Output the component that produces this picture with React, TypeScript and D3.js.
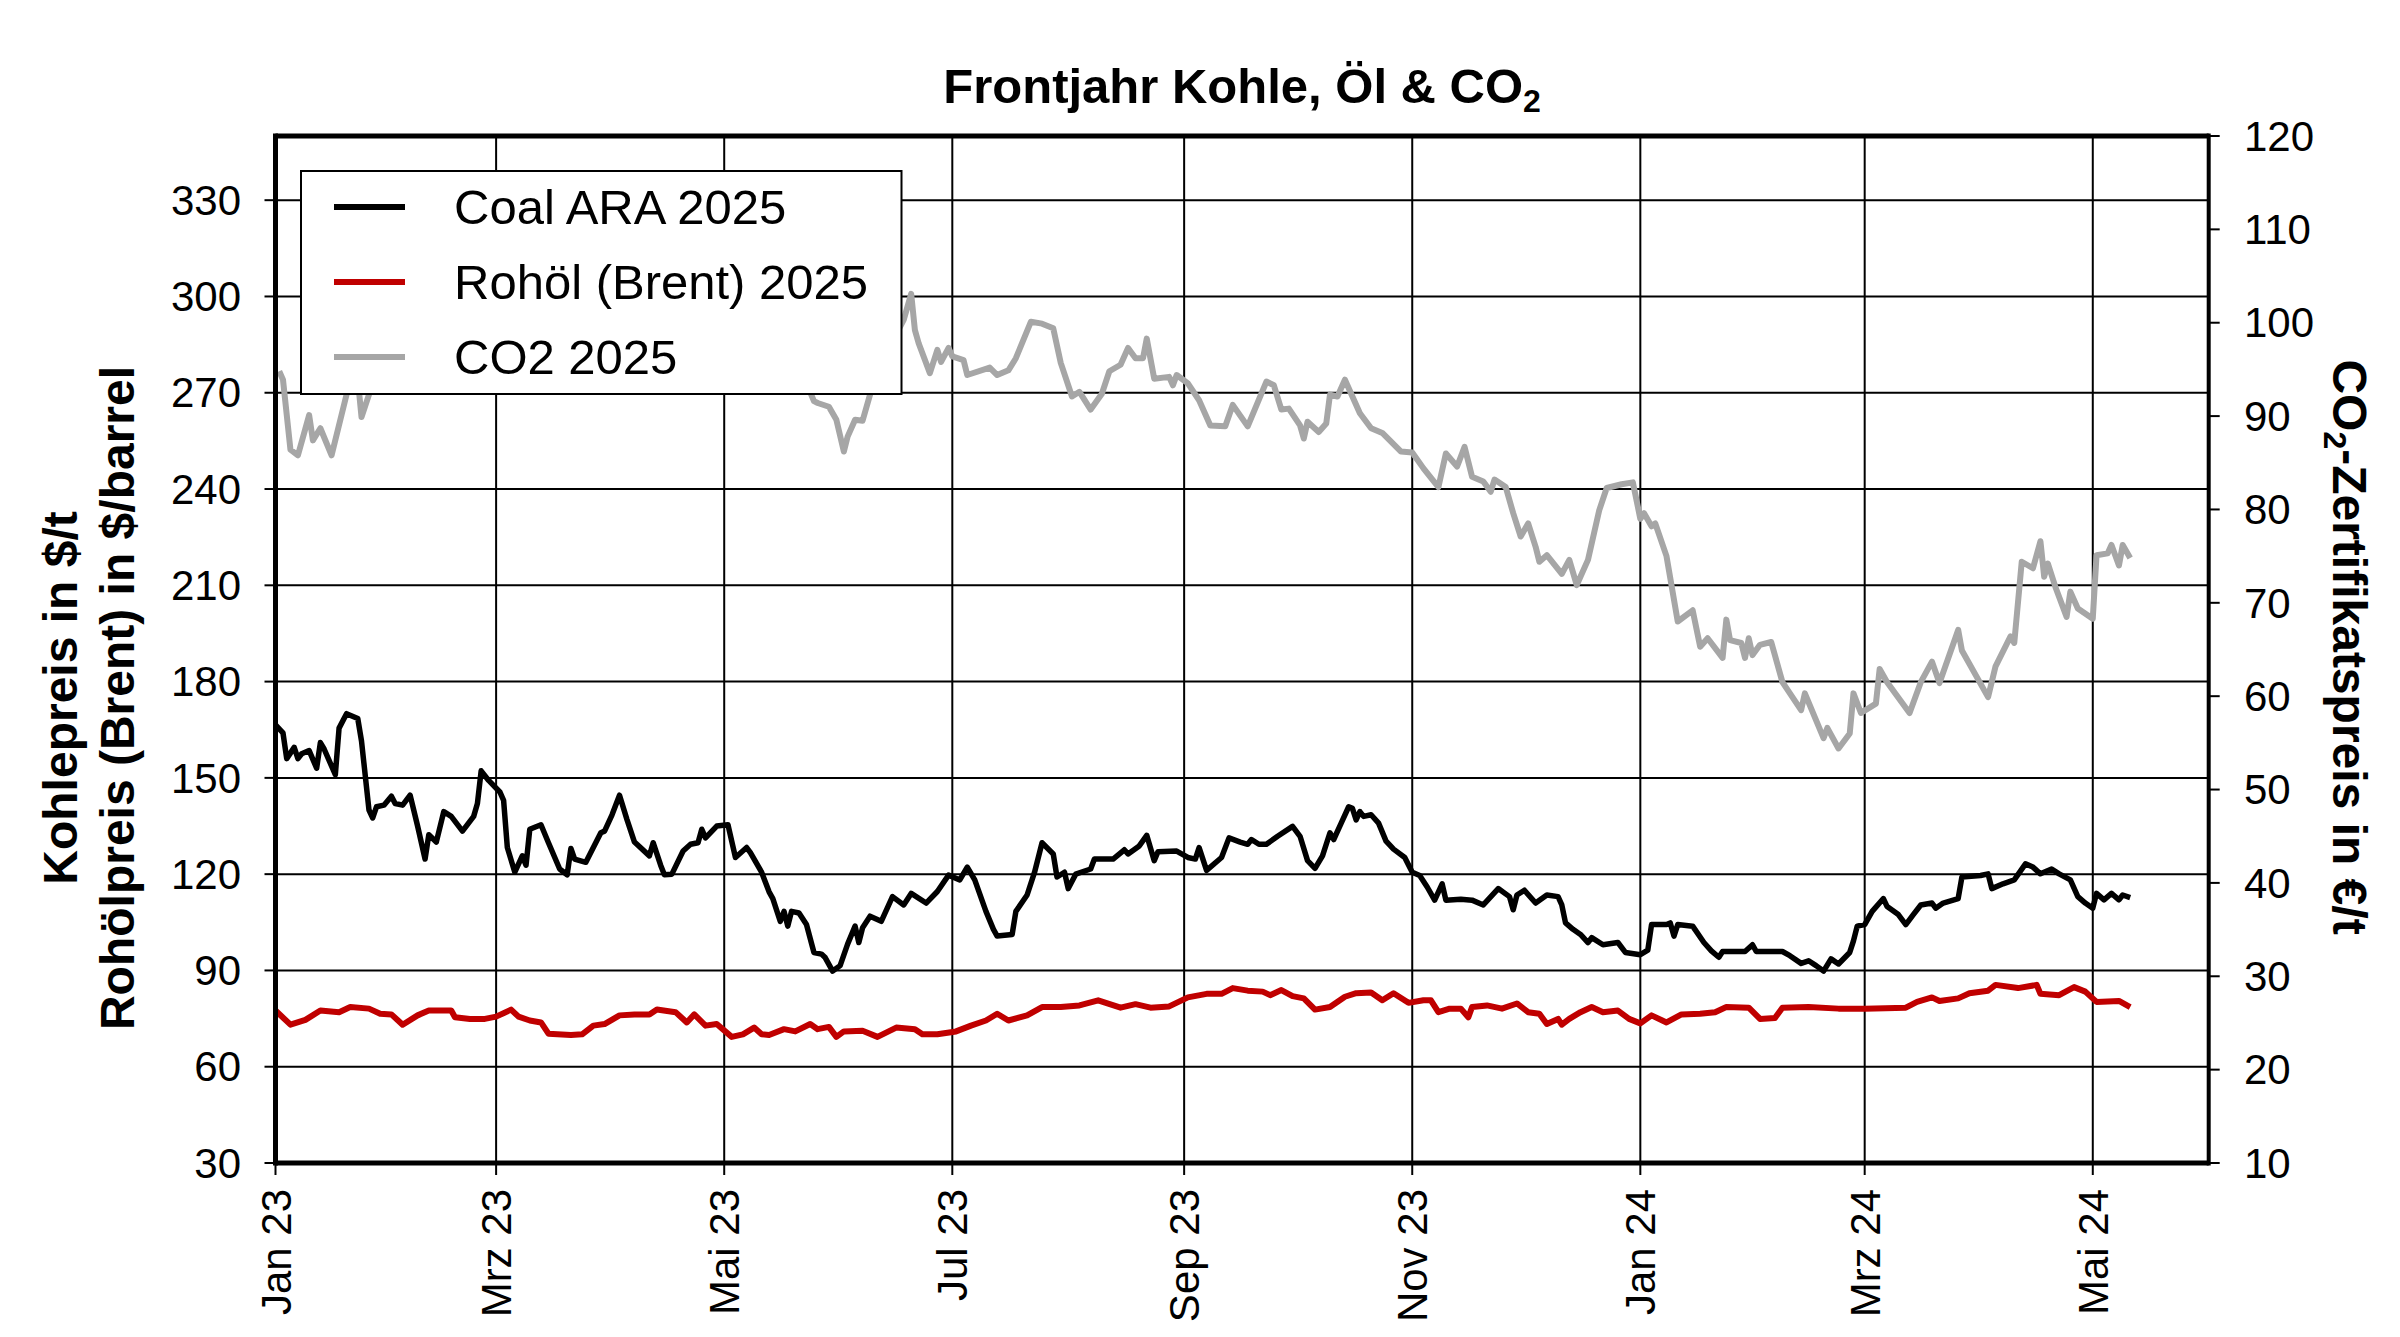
import * as d3 from "d3";

// Tage seit 1. Jan 2023, Wert
const coalSeries: [number, number][] = [
  [0, 166.5], [2, 164], [3, 156], [5, 159.5], [6, 156], [7, 157.5], [9, 158.5], [11, 153], [12, 161], [13, 159],
  [16, 151], [17, 165.5], [19, 170], [22, 168.5], [23, 161.5], [25, 140], [26, 137.5], [27, 141], [29, 141.5],
  [31, 144.3], [32, 142], [34, 141.5], [36, 144.6], [38, 135], [40, 124.7], [41, 132.3], [43, 130], [45, 139.5],
  [47, 138], [50, 133.4], [53, 138], [54, 142], [55, 152.2], [57, 149.2], [60, 145.6], [61, 143], [62, 128.3],
  [64, 120.6], [66, 125.7], [67, 122.8], [68, 134], [71, 135.4], [73, 129.8], [76, 121.6], [78, 119.8], [79, 128],
  [80, 124.7], [83, 123.7], [87, 132.9], [88, 133.4], [90, 138.5], [92, 144.6], [94, 137], [96, 130], [100, 125.7],
  [101, 129.8], [103, 122.8], [104, 119.8], [106, 120], [109, 127.2], [111, 129.3], [113, 129.8], [114, 134],
  [115, 131.3], [118, 135], [121, 135.4], [123, 125.2], [126, 128.3], [127, 126.7], [130, 120.6], [132, 114.5],
  [133, 112.4], [135, 105.3], [136, 108.4], [137, 103.8], [138, 108.4], [140, 107.9], [142, 104.3], [144, 95.6],
  [146, 95.1], [147, 94], [149, 89.8], [151, 91.5], [153, 98.2], [155, 103.8], [156, 98.7], [157, 103.3],
  [159, 106.9], [162, 105.3], [165, 113], [168, 110.4], [170, 114], [174, 111], [177, 114.6], [180, 119.7],
  [183, 118.2], [185, 122.2], [187, 118.2], [190, 108.4], [192, 102.8], [193, 100.7], [197, 101.2], [198, 108.4],
  [201, 113.5], [203, 120.6], [205, 129.8], [208, 126.3], [209, 119.1], [211, 120.6], [212, 115.5], [214, 120],
  [218, 121.6], [219, 124.7], [224, 124.7], [227, 127.6], [228, 126.3], [231, 128.8], [233, 132.1], [235, 124.2],
  [236, 127], [241, 127.2], [244, 125.2], [246, 124.7], [247, 128.3], [249, 121.2], [253, 125.2], [255, 131.3],
  [258, 130], [260, 129.3], [261, 130.8], [263, 129.3], [265, 129.3], [268, 131.8], [272, 134.9], [274, 131.8],
  [276, 124.2], [278, 121.8], [280, 125.7], [282, 132.9], [283, 130.8], [285, 135.9], [287, 141], [288, 140.5],
  [289, 136.9], [290, 139.5], [291, 138], [293, 138.5], [295, 135.9], [297, 130.3], [299, 127.8], [302, 125.2],
  [304, 120.6], [306, 119.6], [308, 116], [310, 111.9], [312, 117], [313, 111.9], [317, 112.2], [320, 111.9],
  [323, 110.4], [327, 115.5], [330, 113], [331, 108.9], [332, 113.5], [334, 115], [337, 111], [340, 113.5],
  [343, 113], [344, 110.4], [345, 104.8], [347, 102.8], [349, 101.2], [351, 98.7], [352, 100.2], [355, 98],
  [359, 98.7], [361, 95.6], [365, 94.9], [367, 96.3], [368, 104.3], [372, 104.3], [373, 104.8], [374, 100.7],
  [375, 104.3], [379, 103.8], [382, 98.7], [384, 96.1], [386, 94.1], [387, 95.9], [393, 95.9], [395, 98],
  [396, 95.9], [403, 95.9], [405, 94.6], [408, 92.2], [410, 93], [412, 91.5], [414, 89.8], [416, 93.6], [418, 92],
  [421, 95.6], [422, 99.2], [423, 103.8], [425, 104.3], [427, 108.4], [430, 112.4], [431, 109.9], [434, 107.4],
  [436, 104.3], [438, 107.4], [440, 110.4], [443, 111], [444, 109.4], [446, 111], [450, 112.4], [451, 119.1],
  [456, 119.6], [458, 120.1], [459, 115.5], [462, 117], [465, 118.2], [468, 123.2], [470, 122.2], [472, 120.1],
  [475, 121.6], [477, 120.1], [480, 118.2], [482, 113], [484, 111], [486, 109.4], [487, 114], [489, 112],
  [491, 114], [493, 112], [494, 113.5], [496, 112.7],
];

const brentSeries: [number, number][] = [
  [0, 77.5], [4, 73.1], [8, 74.6], [12, 77.5], [17, 77], [20, 78.6], [25, 78.1], [28, 76.5], [31, 76.3], [34, 73.1],
  [38, 76], [41, 77.5], [47, 77.5], [48, 75.4], [52, 74.9], [56, 74.9], [59, 75.6], [63, 77.8], [65, 75.6],
  [68, 74.4], [71, 73.8], [73, 70.3], [79, 69.9], [82, 70.1], [85, 72.8], [88, 73.3], [92, 76], [96, 76.3],
  [100, 76.3], [102, 77.8], [107, 77], [110, 73.8], [112, 76.3], [115, 72.8], [118, 73.3], [122, 69.3], [125, 70.1],
  [128, 72.2], [130, 70.1], [132, 69.9], [136, 71.7], [139, 71], [143, 73.3], [145, 71.7], [148, 72.4], [150, 69.3],
  [152, 71], [157, 71.2], [161, 69.3], [166, 72.2], [171, 71.7], [173, 70.1], [177, 70.1], [182, 71], [186, 72.8],
  [190, 74.4], [193, 76.5], [196, 74.4], [201, 76], [205, 78.6], [210, 78.6], [215, 79.1], [220, 80.7], [226, 78.4],
  [230, 79.5], [234, 78.4], [239, 78.8], [244, 81.6], [249, 82.7], [253, 82.7], [256, 84.5], [260, 83.7],
  [264, 83.4], [266, 82.3], [269, 83.9], [272, 82], [275, 81.3], [278, 77.8], [282, 78.6], [286, 81.8], [289, 82.9],
  [293, 83.1], [296, 80.7], [299, 82.9], [303, 79.9], [307, 80.7], [309, 80.7], [311, 77], [314, 78.1], [317, 78.1],
  [319, 75.4], [320, 78.6], [324, 79.1], [328, 78.1], [332, 79.7], [335, 77], [338, 76.5], [340, 73.3], [343, 74.9],
  [344, 73.1], [346, 74.9], [349, 77], [352, 78.6], [355, 77], [359, 77.5], [362, 74.9], [365, 73.5], [368, 76],
  [372, 73.8], [376, 76.3], [381, 76.5], [385, 77], [388, 78.6], [394, 78.4], [397, 74.9], [401, 75.2], [403, 78.4],
  [410, 78.6], [418, 78.1], [425, 78.1], [436, 78.4], [439, 80.2], [443, 81.6], [445, 80.5], [450, 81.3],
  [453, 82.9], [458, 83.7], [460, 85.5], [466, 84.5], [471, 85.5], [472, 82.7], [477, 82.3], [481, 84.8],
  [484, 83.4], [487, 80.2], [493, 80.5], [496, 78.6],
];

// rechte Achse (€/t); Feb-Mai 2023 liegt hinter der Legende
const co2Series: [number, number][] = [
  [1, 94.8], [2, 93.9], [4, 86.4], [6, 85.8], [9, 90.1], [10, 87.4], [12, 88.7], [15, 85.8], [19, 92.3], [20, 95],
  [22, 94], [23, 89.9], [25, 92.3], [27, 95.5], [32, 97], [38, 99], [45, 101], [52, 100], [60, 99], [68, 97],
  [76, 96], [85, 97.5], [95, 98], [105, 96.5], [115, 96], [125, 95], [135, 94], [142, 93.5], [144, 91.6],
  [145, 91.4], [148, 91], [150, 89.6], [152, 86.2], [153, 87.8], [155, 89.6], [157, 89.5], [159, 92.3], [162, 95],
  [165, 98], [168, 100.3], [170, 103.1], [171, 99.2], [172, 97.8], [175, 94.6], [177, 97.1], [178, 95.8],
  [180, 97.3], [181, 96.4], [184, 96], [185, 94.4], [191, 95.2], [193, 94.4], [196, 94.9], [198, 96.2],
  [202, 100.1], [205, 99.9], [208, 99.4], [210, 95.7], [213, 92.1], [215, 92.6], [218, 90.7], [221, 92.4],
  [223, 94.8], [226, 95.5], [228, 97.3], [230, 96.2], [232, 96.2], [233, 98.3], [235, 94], [239, 94.2], [240, 93.3],
  [241, 94.4], [244, 93.5], [247, 91.7], [250, 89], [254, 88.9], [256, 91.2], [260, 88.9], [265, 93.7], [267, 93.3],
  [269, 90.7], [271, 90.8], [274, 89], [275, 87.6], [276, 89.4], [279, 88.3], [281, 89.2], [282, 92.3], [284, 92.1],
  [286, 93.9], [290, 90.3], [293, 88.7], [296, 88.2], [301, 86.2], [304, 86.1], [307, 84.4], [311, 82.4], [313, 86],
  [316, 84.6], [318, 86.7], [320, 83.5], [323, 83], [325, 81.9], [326, 83.2], [329, 82.4], [331, 79.6], [333, 77.1],
  [335, 78.5], [337, 76], [338, 74.4], [340, 75.1], [344, 73.1], [346, 74.6], [348, 71.9], [351, 74.6], [354, 79.9],
  [356, 82.3], [360, 82.7], [363, 82.9], [365, 79], [366, 79.6], [368, 78.2], [369, 78.5], [372, 75], [375, 68],
  [379, 69.2], [381, 65.3], [383, 66.2], [387, 64.1], [388, 68.2], [389, 66], [392, 65.7], [393, 64.1], [394, 66.2],
  [395, 64.4], [397, 65.5], [400, 65.8], [403, 61.5], [408, 58.5], [409, 60.3], [414, 55.5], [415, 56.6],
  [418, 54.4], [421, 56], [422, 60.3], [424, 58.2], [428, 59.2], [429, 62.9], [431, 61.5], [437, 58.2], [440, 61.5],
  [443, 63.7], [445, 61.4], [450, 67.1], [451, 64.9], [458, 59.9], [460, 63.2], [464, 66.4], [465, 65.7],
  [467, 74.4], [470, 73.7], [472, 76.6], [473, 72.8], [474, 74.2], [476, 71.7], [479, 68.5], [480, 71.2],
  [482, 69.4], [486, 68.3], [487, 75.1], [490, 75.3], [491, 76.2], [493, 74], [494, 76.2], [496, 74.8],
];

const xTickLabels = ["Jan 23", "Mrz 23", "Mai 23", "Jul 23", "Sep 23", "Nov 23", "Jan 24", "Mrz 24", "Mai 24"];
const leftTicks = d3.range(30, 331, 30);
const rightTicks = d3.range(10, 121, 10);
const legendItems = [
  { label: "Coal ARA 2025", color: "#000000", width: 6 },
  { label: "Rohöl (Brent) 2025", color: "#C00000", width: 6 },
  { label: "CO2 2025", color: "#A6A6A6", width: 6 },
];

const W = 2400;
const H = 1337;
const m = { left: 275.5, right: 2208.7, top: 136, bottom: 1163 };
const font = "'Liberation Sans', Arial, Helvetica, sans-serif";
const start = new Date(Date.UTC(2023, 0, 1));

export default function App() {
  const x = d3.scaleUtc().domain([start, new Date(Date.UTC(2024, 5, 1))]).range([m.left, m.right]);
  const yL = d3.scaleLinear().domain([30, 350]).range([m.bottom, m.top]);
  const yR = d3.scaleLinear().domain([10, 120]).range([m.bottom, m.top]);
  const toDate = (d: number) => d3.utcDay.offset(start, d);

  const lineL = d3.line<[number, number]>().x((d) => x(toDate(d[0]))).y((d) => yL(d[1]));
  const lineR = d3.line<[number, number]>().x((d) => x(toDate(d[0]))).y((d) => yR(d[1]));

  const monthTicks = d3.utcMonth.every(2)!.range(start, new Date(Date.UTC(2024, 5, 1)));

  return (
    <svg width={W} height={H} style={{ position: "absolute", left: 0, top: 0, background: "#fff" }} fontFamily={font}>
      <rect width={W} height={H} fill="#fff" />

      {/* Gitter */}
      {leftTicks.slice(1).map((t) => (
        <line key={"h" + t} x1={m.left} x2={m.right} y1={yL(t)} y2={yL(t)} stroke="#000" strokeWidth={2} />
      ))}
      {monthTicks.slice(1).map((d, i) => (
        <line key={"v" + i} x1={x(d)} x2={x(d)} y1={m.top} y2={m.bottom} stroke="#000" strokeWidth={2} />
      ))}

      {/* Linien */}
      <path d={lineR(co2Series)!} fill="none" stroke="#A6A6A6" strokeWidth={6} strokeLinejoin="round" />
      <path d={lineL(brentSeries)!} fill="none" stroke="#C00000" strokeWidth={6} strokeLinejoin="round" />
      <path d={lineL(coalSeries)!} fill="none" stroke="#000" strokeWidth={5.5} strokeLinejoin="round" />

      {/* Legende */}
      <rect x={301} y={171} width={600.5} height={223} fill="#fff" stroke="#000" strokeWidth={2} />
      {legendItems.map((it, i) => {
        const cy = 207 + i * 75;
        return (
          <g key={it.label}>
            <line x1={334} x2={405} y1={cy} y2={cy} stroke={it.color} strokeWidth={it.width} />
            <text x={454} y={cy} dy="0.35em" fontSize={49}>{it.label}</text>
          </g>
        );
      })}

      {/* Rahmen */}
      <line x1={m.left} x2={m.right} y1={m.top} y2={m.top} stroke="#000" strokeWidth={5} />
      <line x1={m.left} x2={m.right} y1={m.bottom} y2={m.bottom} stroke="#000" strokeWidth={5} />
      <line x1={m.left} x2={m.left} y1={m.top - 2.5} y2={m.bottom + 2.5} stroke="#000" strokeWidth={5} />
      <line x1={m.right} x2={m.right} y1={m.top - 2.5} y2={m.bottom + 2.5} stroke="#000" strokeWidth={4} />

      {/* linke Achse */}
      {leftTicks.map((t) => (
        <g key={"l" + t}>
          <line x1={m.left - 11} x2={m.left} y1={yL(t)} y2={yL(t)} stroke="#000" strokeWidth={2} />
          <text x={241} y={yL(t)} dy="0.35em" textAnchor="end" fontSize={42}>{t}</text>
        </g>
      ))}
      {/* rechte Achse */}
      {rightTicks.map((t) => (
        <g key={"r" + t}>
          <line x1={m.right} x2={m.right + 11} y1={yR(t)} y2={yR(t)} stroke="#000" strokeWidth={2} />
          <text x={2244} y={yR(t)} dy="0.35em" textAnchor="start" fontSize={42}>{t}</text>
        </g>
      ))}
      {/* x-Achse */}
      {monthTicks.map((d, i) => (
        <g key={"x" + i}>
          <line x1={x(d)} x2={x(d)} y1={m.bottom} y2={m.bottom + 12} stroke="#000" strokeWidth={2} />
          <text transform={`translate(${x(d)},1189) rotate(-90)`} dy="0.36em" textAnchor="end" fontSize={42}>
            {xTickLabels[i]}
          </text>
        </g>
      ))}

      {/* Titel */}
      <text x={(m.left + m.right) / 2} y={103} textAnchor="middle" fontSize={49} fontWeight="bold">
        Frontjahr Kohle, Öl &amp; CO<tspan fontSize={32} dy={9}>2</tspan>
      </text>

      {/* Achsentitel */}
      <text transform="translate(77,698) rotate(-90)" textAnchor="middle" fontSize={48} fontWeight="bold">
        Kohlepreis in $/t
      </text>
      <text transform="translate(134,698) rotate(-90)" textAnchor="middle" fontSize={48} fontWeight="bold">
        Rohölpreis (Brent) in $/barrel
      </text>
      <text transform="translate(2333,647) rotate(90)" textAnchor="middle" fontSize={48} fontWeight="bold">
        CO<tspan fontSize={32} dy={9}>2</tspan><tspan dy={-9}>-Zertifikatspreis in €/t</tspan>
      </text>
    </svg>
  );
}
